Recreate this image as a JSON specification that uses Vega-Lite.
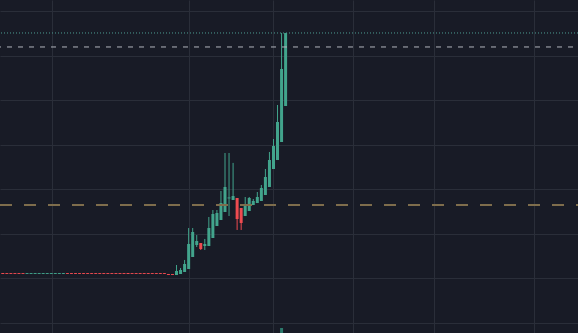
{
  "$schema": "https://vega.github.io/schema/vega-lite/v6.json",
  "width": 578,
  "height": 333,
  "autosize": {"type": "none"},
  "padding": 0,
  "background": "#181b26",
  "config": {"view": {"stroke": null}, "scale": {"continuousPadding": 0}},
  "datasets": {
    "candles": [
      {"i":0,"o":11.2,"c":11.0,"h":11.2,"l":11.0,"d":"down","v":0},
      {"i":1,"o":11.2,"c":11.0,"h":11.2,"l":11.0,"d":"down","v":0},
      {"i":2,"o":11.2,"c":11.0,"h":11.2,"l":11.0,"d":"down","v":0},
      {"i":3,"o":11.2,"c":11.0,"h":11.2,"l":11.0,"d":"down","v":0},
      {"i":4,"o":11.2,"c":11.0,"h":11.2,"l":11.0,"d":"down","v":0},
      {"i":5,"o":11.2,"c":11.0,"h":11.2,"l":11.0,"d":"down","v":0},
      {"i":6,"o":11.0,"c":11.2,"h":11.2,"l":11.0,"d":"up","v":0},
      {"i":7,"o":11.0,"c":11.2,"h":11.2,"l":11.0,"d":"up","v":0},
      {"i":8,"o":11.0,"c":11.2,"h":11.2,"l":11.0,"d":"up","v":0},
      {"i":9,"o":11.0,"c":11.2,"h":11.2,"l":11.0,"d":"up","v":0},
      {"i":10,"o":11.0,"c":11.2,"h":11.2,"l":11.0,"d":"up","v":0},
      {"i":11,"o":11.0,"c":11.2,"h":11.2,"l":11.0,"d":"up","v":0},
      {"i":12,"o":11.0,"c":11.2,"h":11.2,"l":11.0,"d":"up","v":0},
      {"i":13,"o":11.0,"c":11.2,"h":11.2,"l":11.0,"d":"up","v":0},
      {"i":14,"o":11.0,"c":11.2,"h":11.2,"l":11.0,"d":"up","v":0},
      {"i":15,"o":11.0,"c":11.2,"h":11.2,"l":11.0,"d":"up","v":0},
      {"i":16,"o":11.2,"c":11.0,"h":11.2,"l":11.0,"d":"down","v":0},
      {"i":17,"o":11.2,"c":11.0,"h":11.2,"l":11.0,"d":"down","v":0},
      {"i":18,"o":11.2,"c":11.0,"h":11.2,"l":11.0,"d":"down","v":0},
      {"i":19,"o":11.2,"c":11.0,"h":11.2,"l":11.0,"d":"down","v":0},
      {"i":20,"o":11.2,"c":11.0,"h":11.2,"l":11.0,"d":"down","v":0},
      {"i":21,"o":11.2,"c":11.0,"h":11.2,"l":11.0,"d":"down","v":0},
      {"i":22,"o":11.2,"c":11.0,"h":11.2,"l":11.0,"d":"down","v":0},
      {"i":23,"o":11.2,"c":11.0,"h":11.2,"l":11.0,"d":"down","v":0},
      {"i":24,"o":11.2,"c":11.0,"h":11.2,"l":11.0,"d":"down","v":0},
      {"i":25,"o":11.2,"c":11.0,"h":11.2,"l":11.0,"d":"down","v":0},
      {"i":26,"o":11.2,"c":11.0,"h":11.2,"l":11.0,"d":"down","v":0},
      {"i":27,"o":11.2,"c":11.0,"h":11.2,"l":11.0,"d":"down","v":0},
      {"i":28,"o":11.2,"c":11.0,"h":11.2,"l":11.0,"d":"down","v":0},
      {"i":29,"o":11.2,"c":11.0,"h":11.2,"l":11.0,"d":"down","v":0},
      {"i":30,"o":11.2,"c":11.0,"h":11.2,"l":11.0,"d":"down","v":0},
      {"i":31,"o":11.2,"c":11.0,"h":11.2,"l":11.0,"d":"down","v":0},
      {"i":32,"o":11.2,"c":11.0,"h":11.2,"l":11.0,"d":"down","v":0},
      {"i":33,"o":11.2,"c":11.0,"h":11.2,"l":11.0,"d":"down","v":0},
      {"i":34,"o":11.2,"c":11.0,"h":11.2,"l":11.0,"d":"down","v":0},
      {"i":35,"o":11.2,"c":11.0,"h":11.2,"l":11.0,"d":"down","v":0},
      {"i":36,"o":11.2,"c":11.0,"h":11.2,"l":11.0,"d":"down","v":0},
      {"i":37,"o":11.2,"c":11.0,"h":11.2,"l":11.0,"d":"down","v":0},
      {"i":38,"o":11.2,"c":11.0,"h":11.2,"l":11.0,"d":"down","v":0},
      {"i":39,"o":11.2,"c":11.0,"h":11.2,"l":11.0,"d":"down","v":0},
      {"i":40,"o":11.2,"c":11.0,"h":11.2,"l":11.0,"d":"down","v":0},
      {"i":41,"o":11.0,"c":10.78,"h":11.0,"l":10.78,"d":"down","v":0},
      {"i":42,"o":11.0,"c":10.78,"h":11.0,"l":10.78,"d":"down","v":0},
      {"i":43,"o":10.77,"c":11.67,"h":13.01,"l":10.77,"d":"up","v":0},
      {"i":44,"o":10.99,"c":11.89,"h":12.34,"l":10.99,"d":"up","v":0},
      {"i":45,"o":11.44,"c":13.24,"h":14.14,"l":11.44,"d":"up","v":0},
      {"i":46,"o":12.12,"c":17.73,"h":21.31,"l":12.12,"d":"up","v":0},
      {"i":47,"o":14.81,"c":20.42,"h":21.31,"l":14.81,"d":"up","v":0},
      {"i":48,"o":17.5,"c":18.4,"h":19.74,"l":17.05,"d":"up","v":0},
      {"i":49,"o":17.95,"c":16.6,"h":17.95,"l":16.38,"d":"down","v":0},
      {"i":50,"o":17.28,"c":17.73,"h":18.85,"l":16.38,"d":"up","v":0},
      {"i":51,"o":17.28,"c":21.31,"h":23.78,"l":17.28,"d":"up","v":0},
      {"i":52,"o":19.07,"c":24.46,"h":25.35,"l":19.07,"d":"up","v":0},
      {"i":53,"o":21.76,"c":24.68,"h":25.35,"l":21.76,"d":"up","v":0},
      {"i":54,"o":23.11,"c":26.92,"h":29.62,"l":23.11,"d":"up","v":0},
      {"i":55,"o":24.9,"c":30.51,"h":38.14,"l":24.9,"d":"up","v":0},
      {"i":56,"o":27.95,"c":28.17,"h":38.14,"l":24.01,"d":"up","v":0},
      {"i":57,"o":27.6,"c":28.49,"h":35.92,"l":27.6,"d":"up","v":0},
      {"i":58,"o":28.05,"c":23.33,"h":28.05,"l":20.87,"d":"down","v":0},
      {"i":59,"o":25.8,"c":22.44,"h":25.8,"l":20.87,"d":"down","v":0},
      {"i":60,"o":24.01,"c":26.25,"h":28.27,"l":24.01,"d":"up","v":0},
      {"i":61,"o":25.13,"c":28.05,"h":28.27,"l":25.13,"d":"up","v":0},
      {"i":62,"o":26.47,"c":27.37,"h":27.82,"l":26.47,"d":"up","v":0},
      {"i":63,"o":26.92,"c":28.27,"h":29.39,"l":26.92,"d":"up","v":0},
      {"i":64,"o":27.37,"c":30.29,"h":30.96,"l":27.37,"d":"up","v":0},
      {"i":65,"o":28.72,"c":32.76,"h":34.55,"l":28.72,"d":"up","v":0},
      {"i":66,"o":30.51,"c":36.57,"h":38.37,"l":30.51,"d":"up","v":0},
      {"i":67,"o":34.55,"c":39.71,"h":41.28,"l":34.55,"d":"up","v":0},
      {"i":68,"o":36.57,"c":45.1,"h":48.91,"l":36.57,"d":"up","v":0},
      {"i":69,"o":40.61,"c":56.99,"h":65.07,"l":40.61,"d":"up","v":1},
      {"i":70,"o":48.69,"c":65.07,"h":65.07,"l":48.69,"d":"up","v":0}
    ]
  },
  "layer": [
    {
      "layer": [
        {
          "data": {"name": "candles"},
          "mark": {"type": "rule", "strokeWidth": 1},
          "encoding": {
            "x": {
              "field": "i", "type": "quantitative",
              "scale": {"domain": [-0.69, 142.37], "nice": false, "zero": false, "padding": 0},
              "axis": {"values": [12.2, 46.1, 66.9, 86.7, 106.7, 131.5], "labels": false, "ticks": false, "domain": false, "title": null, "grid": true, "gridColor": "#2a2e39", "gridWidth": 1, "gridOpacity": 1}
            },
            "y": {
              "field": "h", "type": "quantitative",
              "scale": {"domain": [-2.244, 72.47], "nice": false, "zero": false},
              "axis": {"values": [0, 10, 20, 30, 40, 50, 60, 70], "labels": false, "ticks": false, "domain": false, "title": null, "grid": true, "gridColor": "#2a2e39", "gridWidth": 1, "gridOpacity": 1}
            },
            "y2": {"field": "l"},
            "color": {"field": "d", "type": "nominal", "scale": {"domain": ["up", "down"], "range": ["#42a48c", "#ef4b50"]}, "legend": null}
          }
        },
        {
          "data": {"name": "candles"},
          "mark": {"type": "bar", "size": 3},
          "encoding": {
            "x": {"field": "i", "type": "quantitative"},
            "y": {"field": "o", "type": "quantitative"},
            "y2": {"field": "c"},
            "color": {"field": "d", "type": "nominal", "legend": null}
          }
        },
        {
          "data": {"values": [{"p": 65.07}]},
          "mark": {"type": "rule", "color": "#4d9e94", "strokeWidth": 1, "strokeDash": [1, 2]},
          "encoding": {"y": {"field": "p", "type": "quantitative"}}
        },
        {
          "data": {"values": [{"p": 61.93}]},
          "mark": {"type": "rule", "color": "#b2b5be", "strokeWidth": 1, "strokeDash": [5, 6], "strokeDashOffset": 6},
          "encoding": {"y": {"field": "p", "type": "quantitative"}}
        },
        {
          "data": {"values": [{"p": 26.47}]},
          "mark": {"type": "rule", "color": "#7e6d4c", "strokeWidth": 2, "strokeDash": [12, 12], "strokeDashOffset": 10},
          "encoding": {"y": {"field": "p", "type": "quantitative"}}
        }
      ]
    },
    {
      "data": {"name": "candles"},
      "mark": {"type": "bar", "size": 3, "color": "#2c7a6c"},
      "encoding": {
        "x": {"field": "i", "type": "quantitative"},
        "y": {"field": "v", "type": "quantitative", "scale": {"domain": [0, 66.6], "nice": false}, "axis": null}
      }
    }
  ],
  "resolve": {"scale": {"y": "independent"}}
}
